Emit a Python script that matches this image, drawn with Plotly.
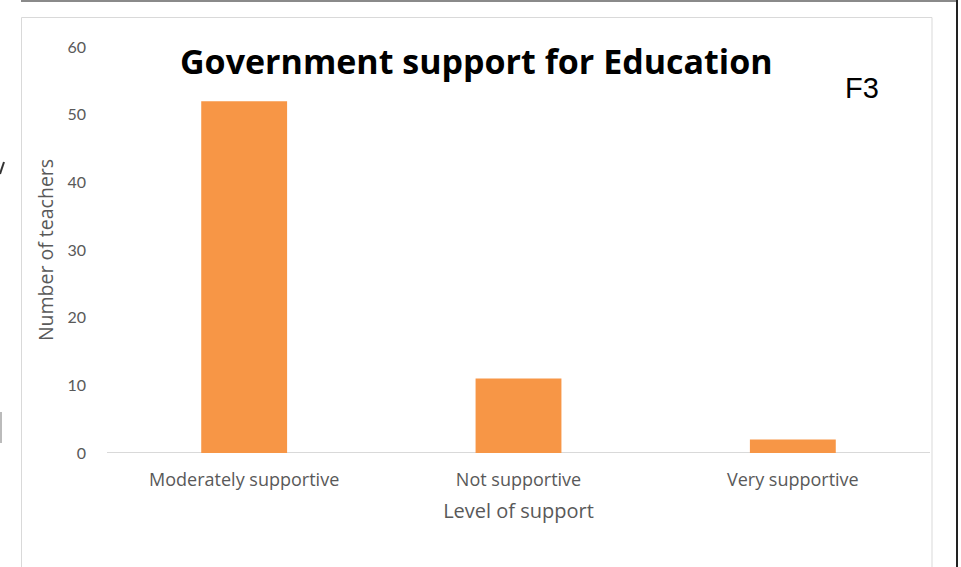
import plotly.graph_objects as go

categories = ["Moderately supportive", "Not supportive", "Very supportive"]
teachers = [52, 11, 2]
y_ticks = [0, 10, 20, 30, 40, 50, 60]

W, H = 961, 567
L, R, T, B = 107, 31, 47, 114
PW = W - L - R
PH = H - T - B

def px_x(px):
    return (px - L) / PW

def px_y(py):
    return (H - B - py) / PH

fig = go.Figure()
fig.add_trace(go.Bar(
    x=categories, y=teachers,
    marker=dict(color="#F79646", line=dict(width=0)),
    width=0.313,
    showlegend=False,
))

fig.update_layout(
    width=W, height=H,
    margin=dict(l=L, r=R, t=T, b=B, pad=0),
    paper_bgcolor="white", plot_bgcolor="white",
    bargap=0.687,
    xaxis=dict(
        showgrid=False, zeroline=False, showline=False, ticks="",
        tickfont=dict(family="Open Sans, sans-serif", size=18, color="#595959"),
        title=dict(text="Level of support", standoff=13,
                   font=dict(family="Open Sans, sans-serif", size=20, color="#595959")),
        ticklabelstandoff=14,
    ),
    yaxis=dict(
        range=[0, 60], tickvals=y_ticks, showgrid=False, zeroline=False,
        showline=False, ticks="",
        tickfont=dict(family="Lato, sans-serif", size=16, color="#595959"),
        ticklabelstandoff=20,
        title=dict(text="Number of teachers", standoff=8,
                   font=dict(family="Open Sans, sans-serif", size=19.5, color="#595959")),
    ),
)

# zero baseline
fig.add_shape(type="line", xref="paper", yref="y", x0=0, x1=1, y0=0, y1=0,
              line=dict(color="#d9d9d9", width=2), layer="below")

# title
fig.add_annotation(text="<b>Government support for Education</b>", xref="paper", yref="paper",
                   x=px_x(476), y=px_y(61), xanchor="center", yanchor="middle",
                   showarrow=False, font=dict(family="Open Sans, sans-serif", size=34, color="#000000"))
# F3 label
fig.add_annotation(text="F3", xref="paper", yref="paper",
                   x=px_x(861.5), y=px_y(88), xanchor="center", yanchor="middle",
                   showarrow=False, font=dict(family="Liberation Sans, Arial, sans-serif", size=29, color="#000000"))

# frame lines (page decoration)
fig.add_shape(type="line", xref="paper", yref="paper",
              x0=px_x(21), x1=px_x(957), y0=px_y(1), y1=px_y(1),
              line=dict(color="#8a8a8a", width=2))
fig.add_shape(type="line", xref="paper", yref="paper",
              x0=px_x(957), x1=px_x(957), y0=px_y(0), y1=px_y(567),
              line=dict(color="#222222", width=2))
fig.add_shape(type="rect", xref="paper", yref="paper",
              x0=px_x(21.5), x1=px_x(932), y0=px_y(17.5), y1=px_y(580),
              line=dict(color="#d9d9d9", width=1), layer="below")
# left edge artifacts
fig.add_shape(type="line", xref="paper", yref="paper",
              x0=px_x(1), x1=px_x(1), y0=px_y(412), y1=px_y(443),
              line=dict(color="#bbbbbb", width=2))
fig.add_shape(type="line", xref="paper", yref="paper",
              x0=px_x(0), x1=px_x(4), y0=px_y(174), y1=px_y(162),
              line=dict(color="#333333", width=2))

fig.write_html("out.html")
